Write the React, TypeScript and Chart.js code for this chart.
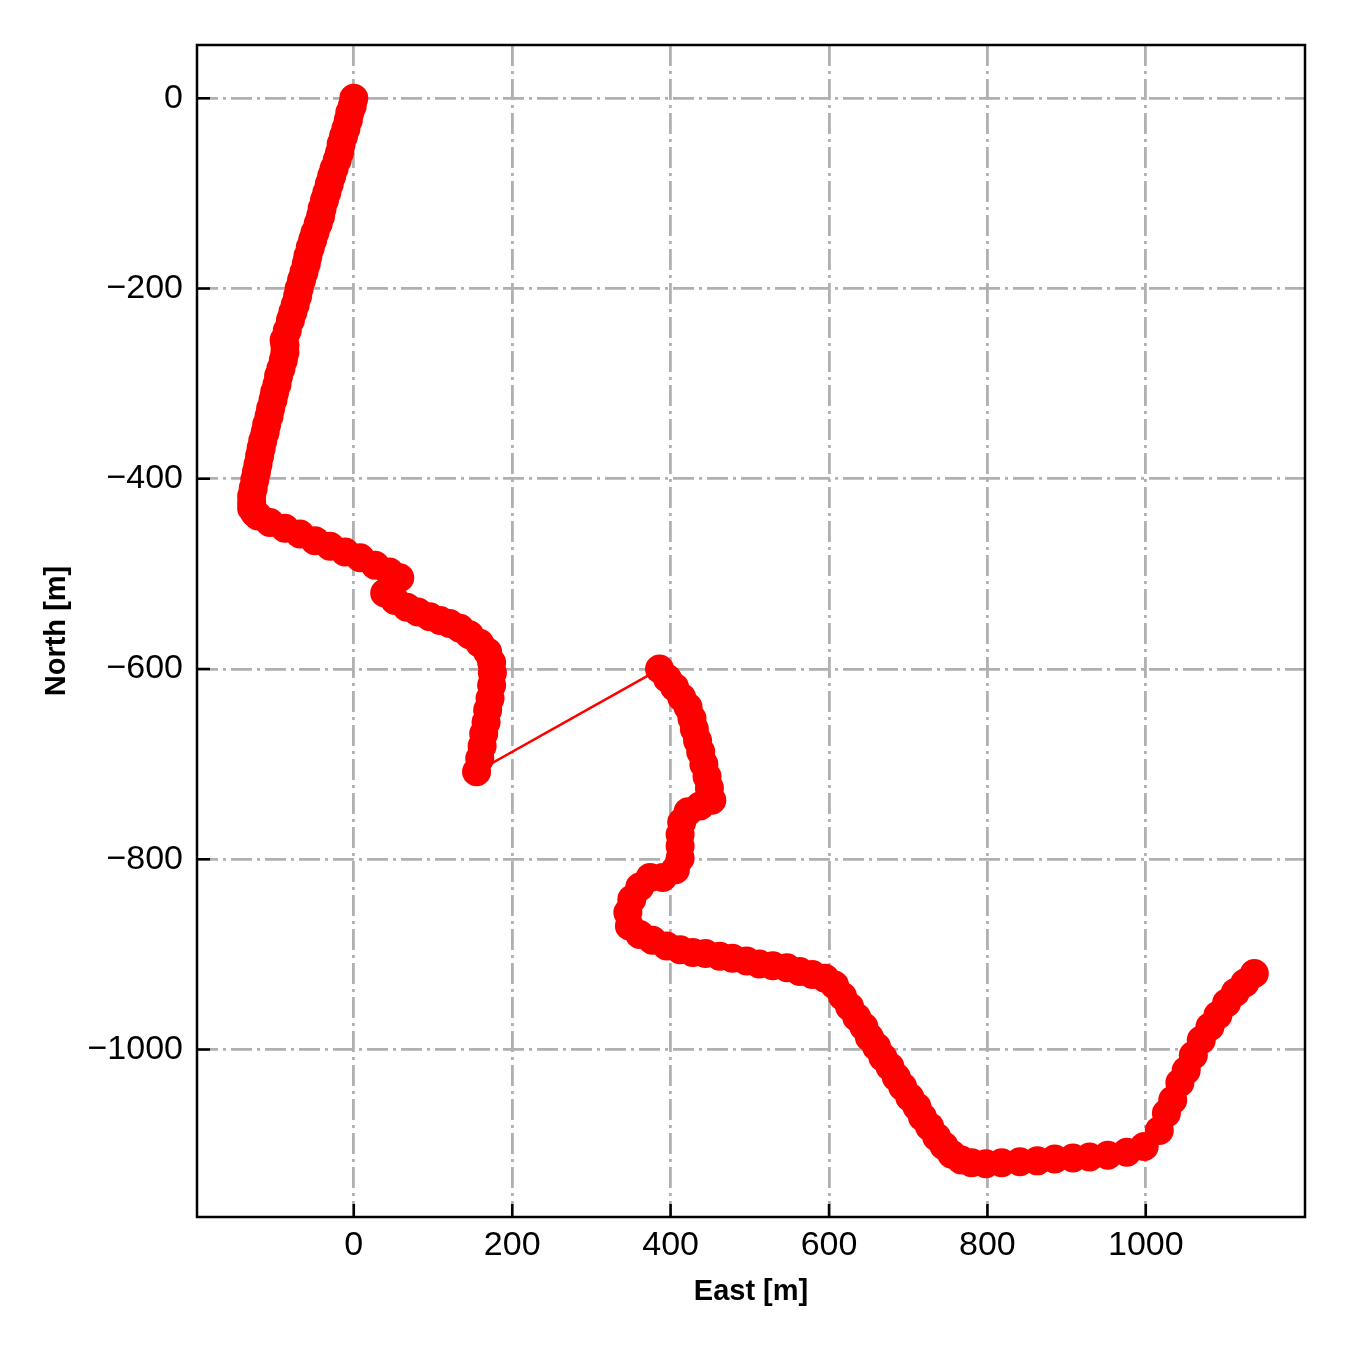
import React, { useEffect, useRef } from "react";
import { Chart, registerables } from "chart.js";

Chart.register(...registerables);

// Track coordinates (metres)
const EAST_A = [0, -2, -5, -7, -10, -13, -16, -18, -21, -25, -28, -31, -34, -37, -40, -42, -45, -49, -52, -55, -58, -60, -63, -66, -69, -71, -74, -77, -80, -84, -88, -87, -87, -89, -92, -95, -97, -100, -102, -105, -107, -110, -112, -115, -117, -119, -121, -123, -125, -127, -129, -129, -129, -125, -121];
const NORTH_A = [0, -8, -15, -23, -32, -40, -48, -57, -65, -74, -82, -90, -99, -107, -116, -124, -132, -141, -149, -157, -166, -174, -183, -191, -200, -208, -217, -225, -233, -244, -254, -260, -267, -275, -284, -292, -301, -309, -317, -326, -334, -343, -351, -360, -368, -376, -385, -393, -401, -410, -418, -425, -431, -436, -439];

const EAST_B = [-106, -87, -68, -49, -30, -11, 8, 27, 45, 58, 39, 52, 67, 81, 96, 109, 121, 134, 146, 159, 169, 174, 175, 174, 172, 169, 167, 164, 162, 159, 155];
const NORTH_B = [-446, -452, -458, -465, -471, -477, -483, -491, -498, -504, -520, -528, -535, -540, -545, -549, -552, -557, -564, -573, -582, -593, -604, -617, -631, -643, -656, -668, -681, -694, -708];

const EAST_C = [386, 396, 405, 414, 422, 427, 430, 434, 438, 442, 446, 449, 452, 437, 422, 414, 412, 412, 412, 406, 390, 374, 361, 351, 346, 348, 361, 377, 395, 412, 428, 444, 462, 478, 496, 512, 529, 547, 563, 579, 595, 607, 617, 626, 635, 644, 651, 660, 668, 677, 685, 693, 702, 711, 718, 727, 736, 745, 755, 767, 780, 798, 818, 841, 863, 885, 908, 929, 952, 976, 998, 1017, 1026, 1034, 1043, 1051, 1060, 1070, 1081, 1091, 1102, 1113, 1125, 1137];
const NORTH_C = [-600, -610, -619, -630, -640, -652, -663, -675, -687, -700, -713, -725, -738, -744, -750, -761, -774, -786, -799, -811, -819, -819, -829, -842, -856, -870, -879, -885, -891, -895, -898, -899, -902, -904, -907, -910, -912, -914, -918, -921, -925, -932, -944, -955, -966, -976, -987, -997, -1008, -1018, -1029, -1039, -1050, -1060, -1071, -1081, -1092, -1101, -1110, -1116, -1119, -1120, -1119, -1118, -1117, -1115, -1114, -1113, -1111, -1108, -1102, -1085, -1067, -1053, -1035, -1022, -1006, -990, -976, -964, -951, -940, -930, -920];

const EAST = [...EAST_A, ...EAST_B, ...EAST_C];
const NORTH = [...NORTH_A, ...NORTH_B, ...NORTH_C];

const X_TICKS = [0, 200, 400, 600, 800, 1000];
const Y_TICKS = [0, -200, -400, -600, -800, -1000];
const X_MIN = -198;
const X_MAX = 1201;
const Y_MIN = -1176;
const Y_MAX = 56;

const FONT = '"Liberation Sans", Arial, Helvetica, sans-serif';

const fmt = (v: number) => (v < 0 ? "\u2212" + Math.abs(v) : String(v));

const framePlugin = {
  id: "frameTicks",
  afterDraw(chart: any) {
    const { ctx, chartArea, scales } = chart;
    const { left, right, top, bottom } = chartArea;
    const x = scales.x;
    const y = scales.y;
    ctx.save();
    ctx.strokeStyle = "#000";
    ctx.lineWidth = 2.5;
    ctx.strokeRect(left, top, right - left, bottom - top);
    ctx.beginPath();
    X_TICKS.forEach((v) => {
      const px = x.getPixelForValue(v);
      ctx.moveTo(px, bottom);
      ctx.lineTo(px, bottom - 13);
    });
    Y_TICKS.forEach((v) => {
      const py = y.getPixelForValue(v);
      ctx.moveTo(left, py);
      ctx.lineTo(left + 13, py);
    });
    ctx.stroke();
    ctx.restore();
  },
};

export default function App() {
  const ref = useRef<HTMLCanvasElement | null>(null);

  useEffect(() => {
    if (!ref.current) return;
    const grid = { color: "#b0b0b0", lineWidth: 2.8, drawTicks: false };
    const border = { display: false, dash: [21, 5, 3, 5] };
    const chart = new Chart(ref.current, {
      type: "scatter",
      data: {
        datasets: [
          {
            data: EAST.map((e, i) => ({ x: e, y: NORTH[i] })),
            showLine: true,
            borderColor: "#ff0000",
            backgroundColor: "#ff0000",
            borderWidth: 2.5,
            pointRadius: 14.5,
            pointHoverRadius: 14.5,
            pointBorderWidth: 0,
          },
        ],
      },
      options: {
        responsive: false,
        animation: false,
        devicePixelRatio: 1,
        events: [],
        layout: { padding: { top: 45, right: 45, left: 0, bottom: 0 } },
        plugins: { legend: { display: false }, tooltip: { enabled: false } },
        scales: {
          x: {
            type: "linear",
            min: X_MIN,
            max: X_MAX,
            afterBuildTicks: (s: any) => {
              s.ticks = X_TICKS.map((v) => ({ value: v }));
            },
            afterFit: (s: any) => {
              s.height = 133;
            },
            grid,
            border,
            ticks: {
              color: "#000",
              font: { family: FONT, size: 34 },
              padding: 8,
              maxRotation: 0,
              autoSkip: false,
              callback: (v: any) => fmt(Number(v)),
            },
            title: {
              display: true,
              text: "East [m]",
              color: "#000",
              font: { family: FONT, size: 29, weight: "bold", lineHeight: 1.2 },
              padding: { top: 0, bottom: 41 },
            },
          },
          y: {
            type: "linear",
            min: Y_MIN,
            max: Y_MAX,
            afterBuildTicks: (s: any) => {
              s.ticks = Y_TICKS.map((v) => ({ value: v }));
            },
            afterFit: (s: any) => {
              s.width = 197;
            },
            grid,
            border,
            ticks: {
              color: "#000",
              font: { family: FONT, size: 34 },
              padding: 14,
              autoSkip: false,
              callback: (v: any) => fmt(Number(v)),
            },
            title: {
              display: true,
              text: "North [m]",
              color: "#000",
              font: { family: FONT, size: 29, weight: "bold", lineHeight: 1.2 },
              padding: { top: 40, bottom: 0 },
            },
          },
        },
      },
      plugins: [framePlugin],
    } as any);
    return () => chart.destroy();
  }, []);

  return (
    <div style={{ position: "absolute", left: 0, top: 0, width: 1350, height: 1350, background: "#fff" }}>
      <canvas ref={ref} width={1350} height={1350} style={{ display: "block", width: 1350, height: 1350 }} />
    </div>
  );
}
